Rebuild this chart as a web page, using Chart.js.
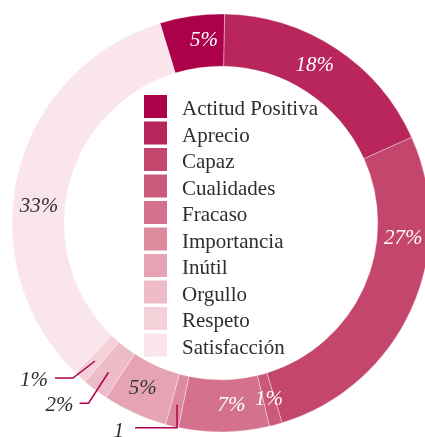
<!DOCTYPE html>
<html>
<head>
<meta charset="utf-8">
<script src="https://cdn.jsdelivr.net/npm/chart.js@4.4.1/dist/chart.umd.min.js"></script>
<style>
html, body { margin: 0; padding: 0; background: #fff; overflow: hidden; width: 425px; height: 437px; }
#wrap { position: absolute; left: 0; top: 0; width: 442px; height: 446px; }
</style>
</head>
<body>
<div id="wrap"><canvas id="donutCanvas" width="442" height="446"></canvas></div>
<script>
// values as printed on the chart
var categories = ['Actitud Positiva', 'Aprecio', 'Capaz', 'Cualidades', 'Fracaso',
	'Importancia', 'Inútil', 'Orgullo', 'Respeto', 'Satisfacción'];
var shareValues = [5, 18, 27, 1, 7, 1, 5, 2, 1, 33];
var shareTexts = ['5%', '18%', '27%', '1%', '7%', '1', '5%', '2%', '1%', '33%'];
var sliceColors = ['#ad004b', '#b8265c', '#c4466d', '#ca5a7c', '#d4728d',
	'#dc8a9e', '#e6a3b3', '#eebcc8', '#f4d0d9', '#fae5ea'];

var sliceLabelPlugin = {
	id: 'sliceLabels',
	afterDatasetsDraw: function (chart, args, opts) {
		var ctx = chart.ctx;
		var arcs = chart.getDatasetMeta(0).data;
		ctx.save();
		ctx.font = 'italic 21px "Liberation Serif"';
		ctx.textBaseline = 'middle';
		for (var i = 0; i < arcs.length; i++) {
			var p = arcs[i].getProps(['x', 'y', 'startAngle', 'endAngle', 'innerRadius', 'outerRadius'], true);
			var lead = opts.leaders[i];
			var ang = p.startAngle + (p.endAngle - p.startAngle) * opts.labelAt[i];
			var rr = (p.innerRadius + p.outerRadius) / 2 + (lead ? 4 : 0);
			var ax = p.x + Math.cos(ang) * rr;
			var ay = p.y + Math.sin(ang) * rr;
			if (lead) {
				var ex = ax + lead[0], ey = ay + lead[1], fx = ex + lead[2];
				ctx.strokeStyle = '#b0004e';
				ctx.lineWidth = 1.5;
				ctx.beginPath();
				ctx.moveTo(ax, ay); ctx.lineTo(ex, ey); ctx.lineTo(fx, ey);
				ctx.stroke();
				ctx.fillStyle = '#2e2e2e';
				ctx.textAlign = 'right';
				ctx.fillText(shareTexts[i], fx - lead[4], ey + lead[3]);
			} else {
				ctx.fillStyle = opts.textColors[i];
				ctx.textAlign = 'center';
				ctx.fillText(shareTexts[i], ax, ay);
			}
		}
		ctx.restore();
	},
	afterDraw: function (chart, args, opts) {
		// legend in the hole of the ring
		var ctx = chart.ctx;
		ctx.save();
		ctx.font = '22px "Liberation Serif"';
		ctx.textAlign = 'left';
		ctx.textBaseline = 'alphabetic';
		for (var i = 0; i < categories.length; i++) {
			var y = 95 + i * 26.5;
			ctx.fillStyle = sliceColors[i];
			ctx.fillRect(144, y, 23, 23);
			ctx.fillStyle = '#2e2e2e';
			ctx.save();
			ctx.translate(182, y + 20);
			ctx.scale(0.955, 1);
			ctx.fillText(categories[i], 0, 0);
			ctx.restore();
		}
		ctx.restore();
	}
};

var ctx = document.getElementById('donutCanvas');
var myChart = new Chart(ctx, {
	type: 'doughnut',
	data: {
		labels: categories,
		datasets: [{
			data: shareValues,
			backgroundColor: sliceColors,
			borderColor: 'rgba(255,255,255,0.35)',
			borderWidth: 1,
			hoverOffset: 0
		}]
	},
	options: {
		responsive: false,
		animation: false,
		radius: 209,
		cutout: '75%',
		rotation: -17,
		layout: { padding: 0 },
		plugins: {
			legend: { display: false },
			tooltip: { enabled: false },
			sliceLabels: {
				labelAt: [0.65, 0.46, 0.30, 0.5, 0.4, 0.5, 0.55, 0.5, 0.5, 0.43],
				textColors: ['#fff', '#fff', '#fff', '#fff', '#fff', '#fff', '#333', '#333', '#333', '#333'],
				leaders: [null, null, null, null, null,
					[0, 23, -42, 4, 11], null, [-20, 31, -9, 2, 6], [-22, 17, -18, 2, 7], null]
			}
		}
	},
	plugins: [sliceLabelPlugin]
});
</script>
</body>
</html>
